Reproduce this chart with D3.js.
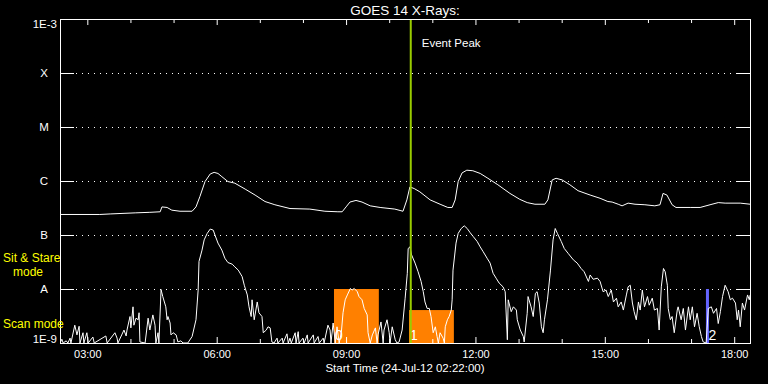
<!DOCTYPE html>
<html>
<head>
<meta charset="utf-8">
<script src="https://cdn.jsdelivr.net/npm/d3@7"></script>
<style>
  html, body { margin: 0; background: #000; }
  svg { display: block; }
</style>
</head>
<body>
<svg id="chart"></svg>
<script>
// time in decimal hours of 24-Jul-12, flux as log10(W/m^2)
const startHour = 2 + 22 / 60;
const endHour = startHour + 16;

const hourTicks = [3, 6, 9, 12, 15, 18];
const hourTickLabels = ["03:00", "06:00", "09:00", "12:00", "15:00", "18:00"];
const minorHourTicks = [4, 5, 7, 8, 10, 11, 13, 14, 16, 17];

const levelExps = [-9, -8, -7, -6, -5, -4, -3];
const levelLabels = ["1E-9", "A", "B", "C", "M", "X", "1E-3"];

// long channel (upper curve)
const longHours = [2.37,3.29,3.53,4.11,4.45,4.69,4.73,4.85,4.96,5.15,
  5.43,5.52,5.61,5.73,5.85,5.94,6.03,6.12,6.26,6.42,
  6.66,6.89,7.12,7.35,7.70,8.16,8.51,8.81,8.91,9.00,
  9.09,9.23,9.37,9.56,9.79,10.13,10.32,10.41,10.48,10.58,
  10.71,10.95,11.18,11.36,11.46,11.53,11.60,11.69,11.80,11.94,
  12.11,12.29,12.52,12.80,13.03,13.20,13.38,13.61,13.68,13.78,
  13.87,14.01,14.19,14.38,14.66,14.89,15.07,15.17,15.31,15.40,
  15.54,15.70,15.93,16.16,16.28,16.35,16.44,16.56,16.65,16.98,
  17.21,17.44,17.63,17.79,18.14,18.37];
const longLog = [-6.62,-6.62,-6.61,-6.59,-6.58,-6.57,-6.48,-6.49,-6.54,-6.56,
  -6.56,-6.48,-6.29,-6.01,-5.87,-5.84,-5.86,-5.92,-6.01,-6.04,
  -6.15,-6.26,-6.38,-6.44,-6.51,-6.52,-6.56,-6.57,-6.57,-6.48,
  -6.39,-6.36,-6.39,-6.46,-6.49,-6.52,-6.56,-6.35,-6.11,-6.14,
  -6.20,-6.35,-6.43,-6.49,-6.49,-6.35,-6.01,-5.85,-5.80,-5.81,
  -5.86,-5.95,-6.07,-6.23,-6.34,-6.40,-6.43,-6.43,-6.35,-5.98,
  -5.95,-5.98,-6.07,-6.18,-6.26,-6.32,-6.38,-6.39,-6.43,-6.46,
  -6.41,-6.43,-6.44,-6.46,-6.44,-6.23,-6.26,-6.44,-6.49,-6.49,
  -6.49,-6.44,-6.40,-6.41,-6.41,-6.43];

// short channel (lower curve), -9 = at/below the floor
const shortHours = [2.37,2.41,2.44,2.51,2.55,2.60,2.62,2.71,2.76,2.81,2.83,2.90,2.92,2.99,3.02,3.13,3.16,3.43,3.46,3.64,
  3.69,3.71,3.85,3.90,3.92,3.99,4.01,4.06,4.08,4.13,4.18,4.20,4.22,4.34,4.41,4.45,4.52,4.57,4.59,4.64,
  4.66,4.71,4.75,4.82,4.85,4.87,4.92,4.94,4.99,5.06,5.10,5.17,5.22,5.33,5.43,5.52,5.57,5.59,5.66,5.71,
  5.78,5.85,5.92,5.96,6.03,6.12,6.19,6.26,6.36,6.42,
  6.50,6.59,6.64,6.71,6.75,6.80,6.82,6.87,6.94,6.98,7.05,7.08,7.15,7.19,7.24,7.28,7.33,7.40,7.42,7.52,
  7.54,7.63,7.66,7.70,7.73,7.82,7.84,7.89,7.91,8.00,8.03,8.10,8.12,8.24,8.26,8.35,8.38,8.47,8.49,8.58,
  8.63,8.65,8.70,8.75,8.79,8.84,8.89,8.93,8.98,9.03,9.10,9.14,9.19,9.26,9.30,9.37,9.42,9.49,9.51,9.56,
  9.61,9.68,9.72,9.74,9.81,9.86,9.88,9.95,10.00,10.02,10.07,10.14,10.18,10.23,10.30,10.37,10.42,10.44,10.48,
  10.52,10.60,10.67,10.74,10.79,10.83,10.88,10.93,10.97,11.02,11.07,11.11,11.14,11.18,11.25,11.28,11.30,11.35,11.39,11.44,
  11.46,11.48,11.55,11.60,11.67,11.74,11.81,11.88,11.95,12.04,12.11,12.18,12.27,12.34,12.41,12.48,12.55,12.64,12.69,12.74,
  12.76,12.83,12.88,12.95,12.97,13.04,13.11,13.13,13.20,13.22,13.29,13.34,13.39,13.43,13.48,13.53,13.57,13.60,13.67,13.74,
  13.80,13.85,13.90,13.99,14.06,14.15,14.27,14.36,14.45,14.52,
  14.62,14.66,14.73,14.83,14.89,14.96,15.03,15.08,15.15,15.20,15.27,15.31,15.38,15.43,15.50,15.54,15.59,15.64,15.68,15.73,
  15.78,15.82,15.87,15.92,15.99,16.03,16.10,16.15,16.22,16.26,16.31,16.36,16.40,16.45,16.47,16.52,16.56,16.61,16.68,16.70,
  16.77,16.82,16.87,16.94,16.98,17.03,17.08,17.14,17.19,17.24,17.28,17.35,17.40,17.47,17.52,17.59,17.63,17.68,17.73,17.79,
  17.86,17.91,17.96,18.03,18.07,18.10,18.14,18.19,18.24,18.31,18.35,18.37];
const shortLog = [-9,-8.93,-9,-8.96,-9,-8.91,-9,-8.67,-8.85,-8.69,-9,-8.81,-9,-8.81,-9,-8.89,-9,-8.87,-9,-8.81,
  -8.91,-9,-8.76,-8.87,-8.76,-8.51,-8.72,-8.33,-8.67,-8.54,-8.57,-8.44,-8.98,-9,-8.54,-8.76,-8.48,-8.67,-9,-8.81,
  -9,-8.01,-8.14,-8.33,-8.57,-8.51,-8.63,-8.85,-8.81,-8.85,-8.98,-8.96,-9,-9,-8.88,-8.57,-8.02,-7.49,-7.28,-7.09,
  -6.97,-6.89,-6.91,-7.00,-7.15,-7.28,-7.43,-7.51,-7.54,-7.59,
  -7.65,-7.77,-7.93,-8.11,-8.33,-8.51,-8.20,-8.57,-8.24,-8.44,-8.51,-8.81,-8.76,-8.70,-8.72,-8.98,-9,-8.91,-9,-8.91,
  -9,-8.83,-9,-8.91,-9,-8.81,-9,-8.79,-9,-8.91,-9,-8.85,-9,-8.85,-9,-8.88,-9,-8.91,-9,-8.67,
  -8.76,-9,-8.63,-9,-8.70,-9,-8.81,-8.44,-8.20,-8.11,-7.99,-8.02,-7.99,-8.05,-8.14,-8.20,-8.36,-8.48,-8.81,-9,
  -8.85,-8.72,-9,-8.85,-8.61,-9,-8.76,-8.57,-8.81,-9,-8.70,-8.94,-9,-8.98,-8.76,-8.17,-7.71,-7.25,-7.22,
  -7.37,-7.52,-7.68,-7.86,-8.05,-8.24,-8.36,-8.36,-8.51,-8.81,-8.70,-8.88,-9,-8.81,-8.91,-9,-8.70,-8.57,-8.51,-8.39,
  -8.20,-7.65,-7.15,-6.97,-6.88,-6.83,-6.88,-6.96,-7.03,-7.12,-7.22,-7.31,-7.43,-7.52,-7.71,-7.80,-7.89,-7.96,-8.05,-8.94,
  -8.20,-8.42,-8.33,-8.39,-8.57,-8.76,-8.88,-8.98,-8.45,-8.14,-8.33,-8.51,-8.08,-8.05,-8.26,-8.70,-8.81,-8.57,-8.20,-7.65,
  -7.09,-6.88,-6.97,-7.12,-7.25,-7.34,-7.46,-7.52,-7.62,-7.68,
  -7.86,-7.74,-7.82,-7.80,-7.86,-8.05,-8.02,-8.14,-8.02,-8.24,-8.17,-8.33,-8.24,-8.39,-8.11,-7.96,-7.93,-8.26,-8.42,-8.57,
  -8.24,-8.39,-8.02,-8.33,-8.14,-8.30,-8.17,-8.39,-8.36,-8.76,-7.96,-7.62,-7.68,-7.93,-8.36,-8.57,-8.51,-8.81,-8.39,-8.33,
  -8.57,-8.36,-8.76,-8.33,-8.57,-8.33,-8.70,-8.45,-8.70,-8.88,-8.98,-9,-8.36,-8.33,-8.45,-8.36,-8.64,-8.42,-8.14,-7.93,
  -8.05,-8.20,-8.17,-8.26,-8.57,-8.39,-8.70,-8.26,-8.39,-8.11,-8.20,-8.11];

// observing windows (orange blocks) and the single marker (blue)
const windowStart = [8.72, 10.46];
const windowEnd = [9.76, 11.50];
const windowTop = [-8.0, -8.39];
const windowLabel = ["0", "1"];
const markerHour = [17.38];
const markerTop = [-8.0];
const markerLabel = ["2"];

const eventPeakHour = 10.50;

const sideLabels = ["Sit & Stare", "mode", "Scan mode"];

const width = 768, height = 384;
const plotLeft = 60, plotRight = 750, plotTop = 19, plotBottom = 343;
const font = "'Liberation Sans', Arial, sans-serif";

const svg = d3.select("#chart")
  .attr("width", width)
  .attr("height", height)
  .style("background", "#000");

const x = d3.scaleLinear().domain([startHour, endHour]).range([plotLeft, plotRight]);
const y = d3.scaleLog().domain([1e-9, 1e-3]).range([plotBottom, plotTop]);
const yl = (v) => y(Math.pow(10, v));

svg.append("defs").append("clipPath").attr("id", "plot")
  .append("rect")
  .attr("x", plotLeft).attr("y", plotTop)
  .attr("width", plotRight - plotLeft).attr("height", plotBottom - plotTop + 1);

// dotted level lines
svg.append("g").selectAll("line")
  .data(levelExps.slice(1, -1))
  .join("line")
  .attr("x1", plotLeft + 16).attr("x2", plotRight - 14)
  .attr("y1", (d) => Math.round(yl(d)) + 0.5)
  .attr("y2", (d) => Math.round(yl(d)) + 0.5)
  .attr("stroke", "#fff")
  .attr("stroke-dasharray", "1,5");

// orange windows
const plot = svg.append("g").attr("clip-path", "url(#plot)");
plot.selectAll("rect.win")
  .data(windowStart)
  .join("rect")
  .attr("class", "win")
  .attr("x", (d) => x(d))
  .attr("width", (d, i) => x(windowEnd[i]) - x(d))
  .attr("y", (d, i) => yl(windowTop[i]))
  .attr("height", (d, i) => plotBottom - yl(windowTop[i]))
  .attr("fill", "#ff8000");

plot.selectAll("rect.mark")
  .data(markerHour)
  .join("rect")
  .attr("class", "mark")
  .attr("x", (d) => x(d) - 1.5)
  .attr("width", 3)
  .attr("y", (d, i) => yl(markerTop[i]))
  .attr("height", (d, i) => plotBottom - yl(markerTop[i]))
  .attr("fill", "#6464ff");

// curves
const line = d3.line()
  .x((d) => x(d[0]))
  .y((d) => yl(d[1]));

plot.append("path")
  .attr("d", line(d3.zip(longHours, longLog)))
  .attr("fill", "none")
  .attr("stroke", "#fff")
  .attr("stroke-width", 1);

plot.append("path")
  .attr("d", line(d3.zip(shortHours, shortLog)))
  .attr("fill", "none")
  .attr("stroke", "#fff")
  .attr("stroke-width", 1);

// window numbers
const numbers = windowStart.map((d, i) => [d, windowLabel[i]])
  .concat(markerHour.map((d, i) => [d, markerLabel[i]]));
svg.append("g").selectAll("text")
  .data(numbers)
  .join("text")
  .attr("x", (d) => x(d[0]) + 1)
  .attr("y", plotBottom - 3)
  .attr("fill", "#fff")
  .attr("font-family", font)
  .attr("font-size", 14)
  .text((d) => d[1]);

// event peak
svg.append("line")
  .attr("x1", x(eventPeakHour)).attr("x2", x(eventPeakHour))
  .attr("y1", plotTop).attr("y2", plotBottom)
  .attr("stroke", "#99cc00")
  .attr("stroke-width", 2);
svg.append("text")
  .attr("x", x(eventPeakHour) + 11)
  .attr("y", 47)
  .attr("fill", "#fff")
  .attr("font-family", font)
  .attr("font-size", 11.5)
  .text("Event Peak");

// frame
svg.append("rect")
  .attr("x", plotLeft + 0.5).attr("y", plotTop + 0.5)
  .attr("width", plotRight - plotLeft).attr("height", plotBottom - plotTop)
  .attr("fill", "none")
  .attr("stroke", "#fff");

function styleAxis(g) {
  g.select(".domain").remove();
  g.attr("color", "#fff").attr("font-family", font).attr("font-size", 11);
}

svg.append("g")
  .attr("transform", `translate(0,${plotBottom})`)
  .call(d3.axisBottom(x).tickValues(hourTicks).tickSize(-6).tickSizeOuter(0)
    .tickPadding(7).tickFormat((d, i) => hourTickLabels[i]))
  .call(styleAxis);
svg.append("g")
  .attr("transform", `translate(0,${plotBottom})`)
  .call(d3.axisBottom(x).tickValues(minorHourTicks).tickSize(-4).tickSizeOuter(0).tickFormat(""))
  .call(styleAxis);
svg.append("g")
  .attr("transform", `translate(0,${plotTop})`)
  .call(d3.axisTop(x).tickValues(hourTicks).tickSize(-6).tickSizeOuter(0).tickFormat(""))
  .call(styleAxis);
svg.append("g")
  .attr("transform", `translate(0,${plotTop})`)
  .call(d3.axisTop(x).tickValues(minorHourTicks).tickSize(-4).tickSizeOuter(0).tickFormat(""))
  .call(styleAxis);

const levels = levelExps.map((e) => Math.pow(10, e));
svg.append("g")
  .attr("transform", `translate(${plotLeft},0)`)
  .call(d3.axisLeft(y).tickValues(levels).tickSize(-14).tickSizeOuter(0).tickFormat(""))
  .call(styleAxis);
svg.append("g")
  .attr("transform", `translate(${plotRight},0)`)
  .call(d3.axisRight(y).tickValues(levels).tickSize(-14).tickSizeOuter(0).tickFormat(""))
  .call(styleAxis);

// level labels
const last = levelExps.length - 1;
svg.append("g").selectAll("text")
  .data(levelExps)
  .join("text")
  .attr("x", (d, i) => (i === 0 || i === last ? 57 : 44))
  .attr("y", (d, i) => (i === 0 ? yl(d) : i === last ? yl(d) + 8.5 : yl(d) + 4))
  .attr("text-anchor", (d, i) => (i === 0 || i === last ? "end" : "middle"))
  .attr("fill", "#fff")
  .attr("font-family", font)
  .attr("font-size", 11.5)
  .text((d, i) => levelLabels[i]);

// side labels
const sideX = [3, 13, 3];
const sideY = [262, 276, 328];
svg.append("g").selectAll("text")
  .data(sideLabels)
  .join("text")
  .attr("x", (d, i) => sideX[i])
  .attr("y", (d, i) => sideY[i])
  .attr("fill", "#ffff00")
  .attr("font-family", font)
  .attr("font-size", 12)
  .text((d) => d);

// titles
svg.append("text")
  .attr("x", (plotLeft + plotRight) / 2)
  .attr("y", 15)
  .attr("text-anchor", "middle")
  .attr("fill", "#fff")
  .attr("font-family", font)
  .attr("font-size", 13.5)
  .text("GOES 14 X-Rays:");

svg.append("text")
  .attr("x", (plotLeft + plotRight) / 2)
  .attr("y", 372)
  .attr("text-anchor", "middle")
  .attr("fill", "#fff")
  .attr("font-family", font)
  .attr("font-size", 11.5)
  .text("Start Time (24-Jul-12 02:22:00)");
</script>
</body>
</html>
